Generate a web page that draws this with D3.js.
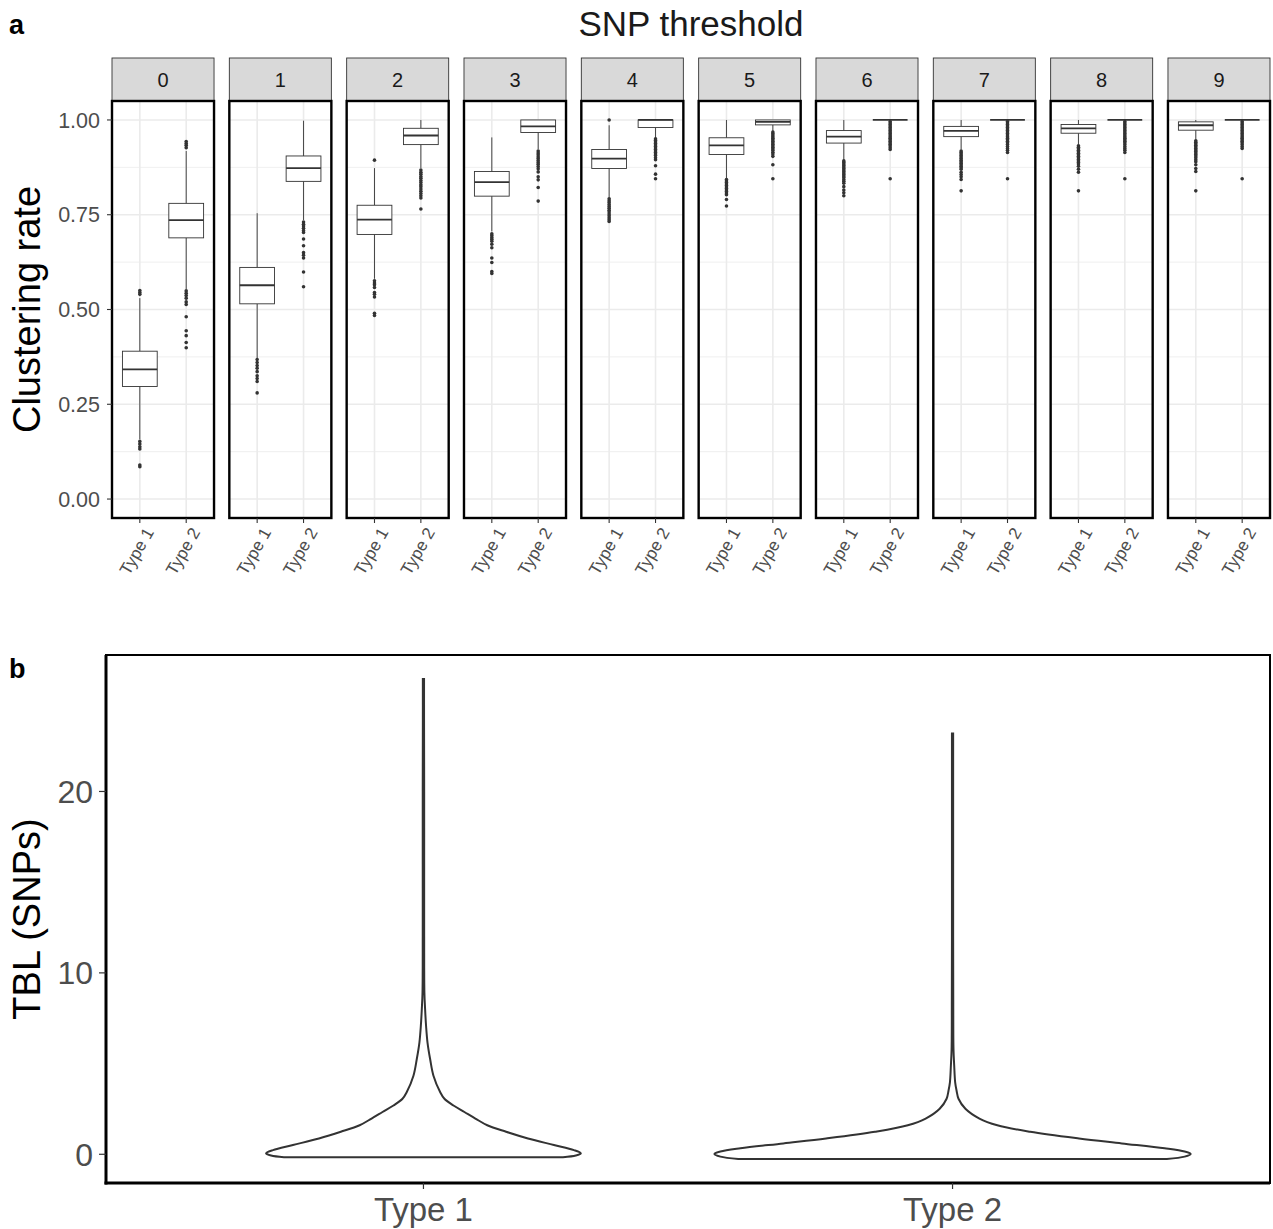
<!DOCTYPE html>
<html><head><meta charset="utf-8">
<script src="https://cdn.jsdelivr.net/npm/d3@7"></script>
<style>body{margin:0;background:#fff}svg{display:block;font-family:"Liberation Sans",Arial,sans-serif}</style>
</head><body><svg id="c" width="1273" height="1229"></svg>
<script>
// ---------- DATA ----------
const thresholds = ["0","1","2","3","4","5","6","7","8","9"];
const types = ["Type 1","Type 2"];
const yTicksA = [0, 0.25, 0.5, 0.75, 1.0];
const yTicksB = [0, 10, 20];
// box stats: [lowerWhisker, q1, median, q3, upperWhisker]
const type1Box = [
  [0.158,0.297,0.342,0.390,0.530],
  [0.372,0.515,0.564,0.611,0.754],
  [0.581,0.698,0.737,0.775,0.873],
  [0.706,0.799,0.836,0.864,0.954],
  [0.795,0.872,0.898,0.922,0.986],
  [0.846,0.909,0.933,0.953,1.000],
  [0.895,0.939,0.956,0.972,1.000],
  [0.922,0.956,0.971,0.983,1.000],
  [0.935,0.965,0.978,0.988,1.000],
  [0.948,0.973,0.986,0.995,1.000]
];
const type2Box = [
  [0.554,0.689,0.736,0.780,0.918],
  [0.736,0.838,0.873,0.905,0.998],
  [0.873,0.935,0.959,0.978,1.000],
  [0.923,0.967,0.983,1.000,1.000],
  [0.952,0.980,1.000,1.000,1.000],
  [0.971,0.987,0.995,1.000,1.000],
  [1,1,1,1,1],
  [1,1,1,1,1],
  [1,1,1,1,1],
  [1,1,1,1,1]
];
const type1Out = [
  [0.55,0.545,0.54,0.152,0.145,0.138,0.132,0.09,0.085],
  [0.368,0.36,0.352,0.345,0.336,0.325,0.318,0.31,0.28],
  [0.894,0.576,0.57,0.565,0.558,0.545,0.54,0.533,0.49,0.484],
  [0.70,0.695,0.69,0.685,0.68,0.672,0.663,0.636,0.624,0.60,0.595],
  [1.0,0.792,0.787,0.782,0.777,0.772,0.767,0.762,0.757,0.752,0.747,0.742,0.737,0.732],
  [0.843,0.839,0.835,0.831,0.827,0.823,0.819,0.815,0.811,0.807,0.803,0.79,0.773],
  [0.892,0.888,0.884,0.88,0.876,0.872,0.868,0.864,0.86,0.856,0.852,0.848,0.843,0.838,0.833,0.824,0.815,0.808,0.80],
  [0.918,0.914,0.91,0.906,0.902,0.898,0.894,0.89,0.886,0.882,0.878,0.874,0.87,0.862,0.856,0.85,0.843,0.813],
  [0.932,0.928,0.924,0.92,0.916,0.912,0.908,0.904,0.9,0.896,0.892,0.888,0.884,0.878,0.87,0.862,0.813],
  [0.945,0.941,0.937,0.933,0.929,0.925,0.921,0.917,0.913,0.909,0.905,0.9,0.895,0.89,0.882,0.872,0.864,0.813]
];
const type2Out = [
  [0.943,0.938,0.933,0.927,0.549,0.543,0.537,0.53,0.52,0.513,0.481,0.444,0.431,0.413,0.399],
  [0.731,0.725,0.72,0.714,0.708,0.703,0.686,0.668,0.65,0.643,0.636,0.599,0.56],
  [0.868,0.862,0.857,0.851,0.846,0.84,0.835,0.829,0.824,0.818,0.812,0.806,0.80,0.794,0.765],
  [0.918,0.913,0.908,0.903,0.898,0.893,0.888,0.883,0.877,0.871,0.863,0.85,0.842,0.822,0.786],
  [0.95,0.946,0.942,0.938,0.934,0.93,0.926,0.922,0.918,0.914,0.91,0.906,0.9,0.895,0.879,0.857,0.845],
  [0.968,0.964,0.96,0.956,0.952,0.948,0.944,0.94,0.936,0.932,0.928,0.924,0.92,0.915,0.91,0.904,0.882,0.845],
  [0.996,0.992,0.988,0.984,0.98,0.976,0.972,0.968,0.964,0.96,0.956,0.952,0.948,0.944,0.94,0.936,0.932,0.927,0.922,0.845],
  [0.996,0.992,0.988,0.984,0.98,0.976,0.972,0.968,0.964,0.96,0.956,0.952,0.948,0.944,0.94,0.935,0.93,0.925,0.92,0.914,0.845],
  [0.996,0.992,0.988,0.984,0.98,0.976,0.972,0.968,0.964,0.96,0.956,0.952,0.948,0.944,0.94,0.935,0.93,0.925,0.92,0.914,0.845],
  [0.996,0.992,0.988,0.984,0.98,0.976,0.972,0.968,0.964,0.96,0.956,0.952,0.948,0.944,0.94,0.935,0.93,0.925,0.845]
];
// violin profiles: TBL value and scaled density (1 = widest of both)
const violin1Vals = [-0.16,-0.07,0.05,0.23,0.51,0.87,1.24,1.60,1.97,2.33,2.69,3.06,3.43,4.33,5.25,6.16,7.07,7.98,8.9,12,16,20,24,26.2];
const violin1Dens = [0.586,0.640,0.661,0.632,0.548,0.439,0.347,0.268,0.218,0.172,0.126,0.088,0.070,0.042,0.028,0.017,0.011,0.007,0.004,0.003,0.003,0.003,0.0025,0.0025];
const violin2Vals = [-0.26,-0.13,0.02,0.15,0.33,0.60,0.87,1.24,1.60,1.97,2.51,3.06,3.5,3.97,4.88,5.79,8.5,12,16,20,23.2];
const violin2Dens = [0.900,0.975,1.0,0.975,0.891,0.711,0.531,0.326,0.188,0.113,0.054,0.025,0.017,0.011,0.007,0.004,0.003,0.0025,0.0025,0.0025,0.0025];

// ---------- DRAW ----------
const svg = d3.select("#c");
const dark = "#333333", tickGrey = "#4D4D4D";

// Panel a
const aTop = 101, aBot = 518, aLeft = 112, aRight = 1270;
const facet = d3.scaleBand().domain(thresholds).range([aLeft, aRight]).paddingInner(0.1304);
const yA = d3.scaleLinear().domain([-0.05, 1.05]).range([aBot, aTop]);
const xIn = d3.scalePoint().domain(types).range([0, facet.bandwidth()]).padding(0.6);
const unit = xIn.step();
const boxW = unit * 0.75;
const minorA = [0.125, 0.375, 0.625, 0.875];

svg.append("text").attr("x", 9).attr("y", 34).attr("font-size", 27).attr("font-weight", "bold").text("a");
svg.append("text").attr("x", (aLeft + aRight) / 2).attr("y", 36).attr("text-anchor", "middle")
  .attr("font-size", 35).attr("fill", "#1A1A1A").text("SNP threshold");

thresholds.forEach((t, i) => {
  const g = svg.append("g").attr("transform", `translate(${facet(t)},0)`);
  const bw = facet.bandwidth();
  // strip
  g.append("rect").attr("x", 0).attr("y", 58).attr("width", bw).attr("height", aTop - 58)
    .attr("fill", "#D9D9D9").attr("stroke", dark).attr("stroke-width", 0.9);
  g.append("text").attr("x", bw / 2).attr("y", 80).attr("dy", "0.35em").attr("text-anchor", "middle")
    .attr("font-size", 20).attr("fill", "#1A1A1A").text(t);
  // grid
  g.selectAll(".gmin").data(minorA).join("line").attr("x1", 0).attr("x2", bw)
    .attr("y1", d => yA(d)).attr("y2", d => yA(d)).attr("stroke", "#EBEBEB").attr("stroke-width", 0.8);
  g.selectAll(".gmaj").data(yTicksA).join("line").attr("class", "gmaj").attr("x1", 0).attr("x2", bw)
    .attr("y1", d => yA(d)).attr("y2", d => yA(d)).attr("stroke", "#EBEBEB").attr("stroke-width", 1.6);
  g.selectAll(".gv").data(types).join("line").attr("class", "gv").attr("x1", d => xIn(d)).attr("x2", d => xIn(d))
    .attr("y1", aTop).attr("y2", aBot).attr("stroke", "#EBEBEB").attr("stroke-width", 1.6);
  // boxes
  const boxes = [type1Box[i], type2Box[i]];
  const outs = [type1Out[i], type2Out[i]];
  types.forEach((ty, k) => {
    const cx = xIn(ty), b = boxes[k];
    g.append("line").attr("x1", cx).attr("x2", cx).attr("y1", yA(b[4])).attr("y2", yA(b[3]))
      .attr("stroke", dark).attr("stroke-width", 0.9);
    g.append("line").attr("x1", cx).attr("x2", cx).attr("y1", yA(b[1])).attr("y2", yA(b[0]))
      .attr("stroke", dark).attr("stroke-width", 0.9);
    g.append("rect").attr("x", cx - boxW / 2).attr("width", boxW)
      .attr("y", yA(b[3])).attr("height", Math.max(0, yA(b[1]) - yA(b[3])))
      .attr("fill", "white").attr("stroke", dark).attr("stroke-width", 0.9);
    g.append("line").attr("x1", cx - boxW / 2).attr("x2", cx + boxW / 2)
      .attr("y1", yA(b[2])).attr("y2", yA(b[2])).attr("stroke", dark).attr("stroke-width", 1.8);
    g.selectAll(null).data(outs[k]).join("circle").attr("cx", cx).attr("cy", d => yA(d))
      .attr("r", 1.8).attr("fill", dark);
  });
  // border
  g.append("rect").attr("x", 0).attr("y", aTop).attr("width", bw).attr("height", aBot - aTop)
    .attr("fill", "none").attr("stroke", "black").attr("stroke-width", 2.4);
  // x ticks
  types.forEach(ty => {
    const cx = xIn(ty);
    g.append("line").attr("x1", cx).attr("x2", cx).attr("y1", aBot).attr("y2", aBot + 5)
      .attr("stroke", dark).attr("stroke-width", 1.1);
    g.append("text").attr("transform", `translate(${cx + 4},${aBot + 8}) rotate(-60)`)
      .attr("text-anchor", "end").attr("dy", "0.72em").attr("font-size", 17).attr("fill", tickGrey).text(ty);
  });
});
// y axis a
const yAxA = svg.append("g");
yTicksA.forEach(v => {
  yAxA.append("line").attr("x1", aLeft - 5).attr("x2", aLeft).attr("y1", yA(v)).attr("y2", yA(v))
    .attr("stroke", dark).attr("stroke-width", 1.1);
  yAxA.append("text").attr("x", aLeft - 12).attr("y", yA(v)).attr("dy", "0.36em").attr("text-anchor", "end")
    .attr("font-size", 21.5).attr("fill", tickGrey).text(d3.format(".2f")(v));
});
svg.append("text").attr("transform", `translate(40,${(aTop + aBot) / 2}) rotate(-90)`).attr("text-anchor", "middle")
  .attr("font-size", 38).attr("fill", "black").text("Clustering rate");

// Panel b
const bTop = 655, bBot = 1183, bLeft = 106, bRight = 1270;
const allVals = violin1Vals.concat(violin2Vals);
const vmin = d3.min(allVals), vmax = d3.max(allVals), vr = vmax - vmin;
const yB = d3.scaleLinear().domain([vmin - 0.05 * vr, vmax + 0.05 * vr]).range([bBot, bTop]);
const xB = d3.scalePoint().domain(types).range([bLeft, bRight]).padding(0.6);
const wB = d3.scaleLinear().domain([0, 1]).range([0, xB.step() * 0.45]);

svg.append("text").attr("x", 9).attr("y", 678).attr("font-size", 27).attr("font-weight", "bold").text("b");

const vdata = [[violin1Vals, violin1Dens], [violin2Vals, violin2Dens]];
types.forEach((ty, k) => {
  const cx = xB(ty);
  const pts = vdata[k][0].map((v, j) => ({ v, d: vdata[k][1][j] }));
  const right = pts.map(p => [cx + wB(p.d), yB(p.v)]);
  const left = pts.slice().reverse().map(p => [cx - wB(p.d), yB(p.v)]);
  const line = d3.line().curve(d3.curveCatmullRom.alpha(0.5));
  const path = line(right) + "L" + line(left).slice(1) + "Z";
  svg.append("path").attr("d", path).attr("fill", "white").attr("stroke", dark).attr("stroke-width", 2);
});
svg.append("rect").attr("x", bLeft).attr("y", bTop).attr("width", bRight - bLeft).attr("height", bBot - bTop)
  .attr("fill", "none").attr("stroke", "black").attr("stroke-width", 2);
svg.append("line").attr("x1", bLeft).attr("x2", bLeft).attr("y1", bTop).attr("y2", bBot + 1.5)
  .attr("stroke", "black").attr("stroke-width", 3);
svg.append("line").attr("x1", bLeft - 1.5).attr("x2", bRight).attr("y1", bBot).attr("y2", bBot)
  .attr("stroke", "black").attr("stroke-width", 3);
yTicksB.forEach(v => {
  svg.append("line").attr("x1", bLeft - 7).attr("x2", bLeft).attr("y1", yB(v)).attr("y2", yB(v))
    .attr("stroke", dark).attr("stroke-width", 1.2);
  svg.append("text").attr("x", bLeft - 13).attr("y", yB(v)).attr("dy", "0.36em").attr("text-anchor", "end")
    .attr("font-size", 32).attr("fill", tickGrey).text(v);
});
types.forEach(ty => {
  svg.append("line").attr("x1", xB(ty)).attr("x2", xB(ty)).attr("y1", bBot).attr("y2", bBot + 6)
    .attr("stroke", dark).attr("stroke-width", 1.2);
  svg.append("text").attr("x", xB(ty)).attr("y", 1209).attr("dy", "0.36em").attr("text-anchor", "middle")
    .attr("font-size", 33).attr("fill", tickGrey).text(ty);
});
svg.append("text").attr("transform", `translate(40,${(bTop + bBot) / 2}) rotate(-90)`).attr("text-anchor", "middle")
  .attr("font-size", 38).attr("fill", "black").text("TBL (SNPs)");
</script></body></html>
